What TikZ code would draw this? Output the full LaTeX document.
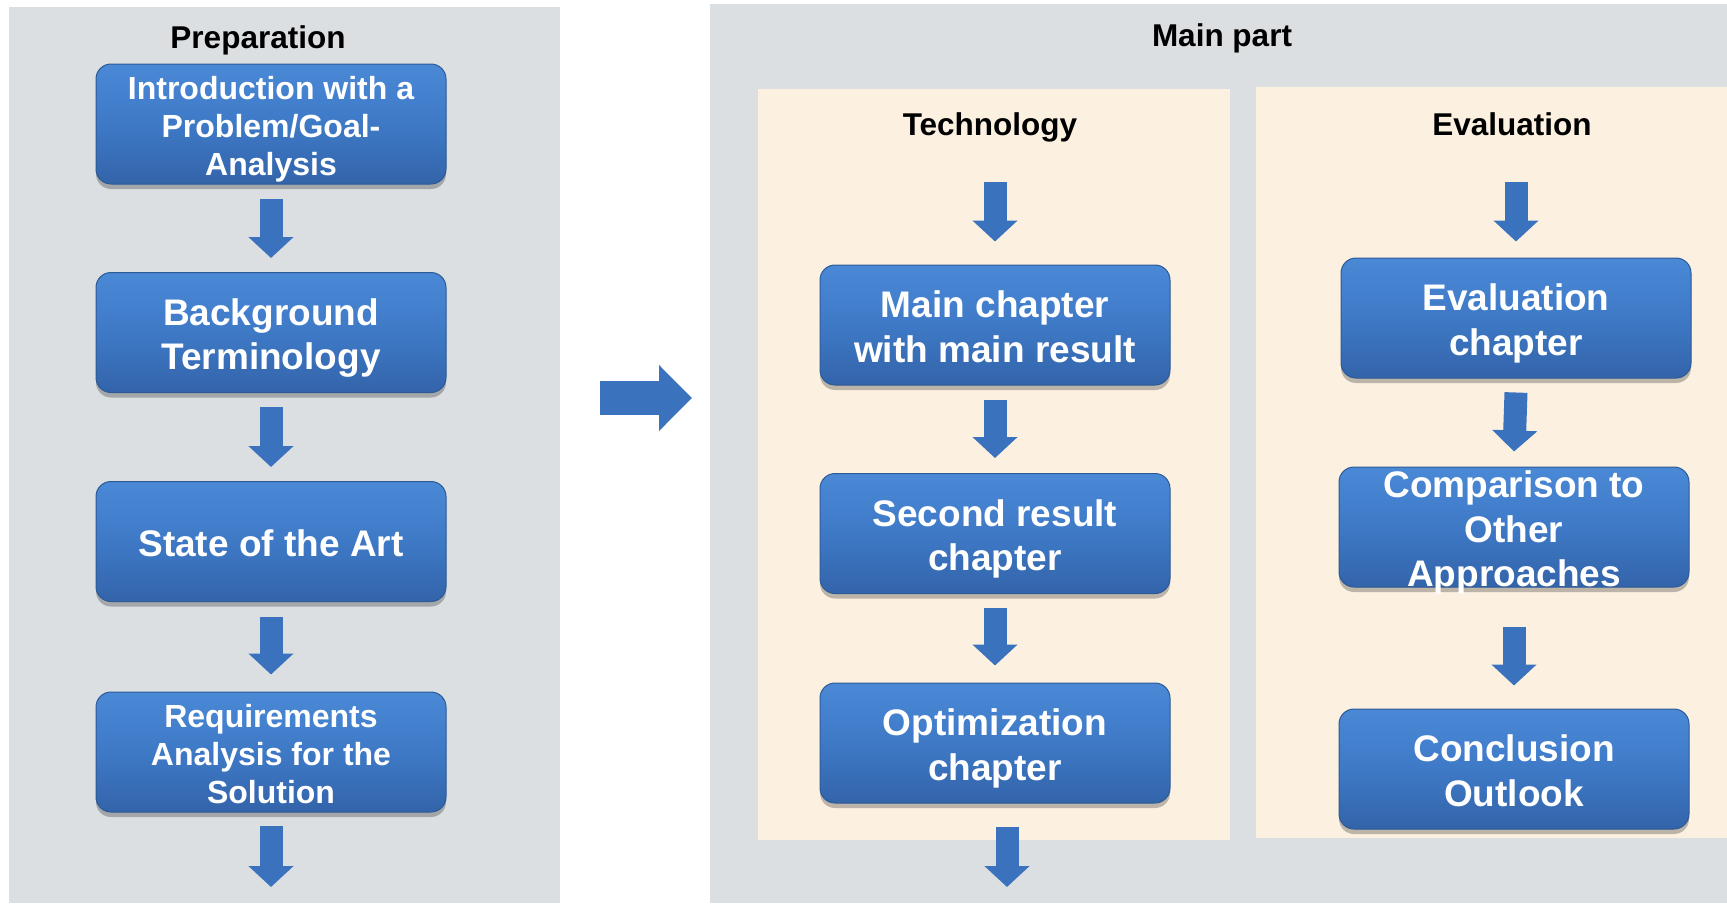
\documentclass[tikz,border=0pt]{standalone}
\usepackage{fontspec}
\setmainfont{Liberation Sans}
\usetikzlibrary{arrows.meta,shadows}
\definecolor{panelgray}{HTML}{DCDFE2}
\definecolor{cream}{HTML}{FCF1E1}
\definecolor{boxtop}{HTML}{4A89D6}
\definecolor{boxmid}{HTML}{3E79C6}
\definecolor{boxbot}{HTML}{3364AA}
\definecolor{boxedge}{HTML}{2C5A96}
\definecolor{arrowblue}{HTML}{3A72BE}
\newcommand{\lt}{\rule[-0.212em]{0pt}{1.237em}}
\newcommand{\ls}{\rule[-0.212em]{0pt}{1.117em}}
\tikzset{
  chapbox/.style={draw=boxedge, line width=1pt, rounded corners=15pt,
    top color=boxtop, bottom color=boxbot, middle color=boxmid,
    minimum width=350pt, minimum height=120pt, align=center, text=white, inner sep=0pt,
    drop shadow={shadow xshift=0pt, shadow yshift=-5pt, opacity=0.25, fill=black}},
  bigtext/.style={font=\bfseries\fontsize{37}{44.5}\selectfont},
  smalltext/.style={font=\bfseries\fontsize{32}{38}\selectfont},
  paneltitle/.style={font=\bfseries\fontsize{31.5}{38}\selectfont, text=black,
    text height=28.5pt, text depth=6.7pt, inner sep=0pt},
  flowarrow/.style={draw=arrowblue, line width=23pt, -{Triangle[width=44pt,length=21pt]}},
  bigarrow/.style={draw=arrowblue, line width=34pt, -{Triangle[width=64pt,length=33pt]}},
}
\begin{document}
\begin{tikzpicture}[x=1pt,y=-1pt]
\useasboundingbox (0,0) rectangle (1727,903);
\fill[white] (0,0) rectangle (1727,903);
\fill[panelgray] (9,7) rectangle (560,903);
\fill[panelgray] (710,4) rectangle (1727,903);
\fill[cream] (758,89) rectangle (1230,840);
\fill[cream] (1256,87) rectangle (1727,838);

\node[paneltitle] (tprep) at (258,37.5) {Preparation};
\node[paneltitle] (tmain) at (1222,35.5) {Main part};
\node[paneltitle] (ttech) at (990,124.5) {Technology};
\node[paneltitle] (teval) at (1512,124.5) {Evaluation};

% Preparation column
\node[chapbox, smalltext] (intro) at (271,124) {\lt Introduction with a\\\ls Problem/Goal-\\\ls Analysis};
\node[chapbox, bigtext] (bg) at (271,332.5) {\lt Background\\\ls Terminology};
\node[chapbox, bigtext] (sota) at (271,541.5) {\lt State of the Art};
\node[chapbox, smalltext] (req) at (271,752) {\lt Requirements\\\ls Analysis for the\\\ls Solution};

% Technology column
\node[chapbox, bigtext] (mainch) at (995,325) {\lt Main chapter\\\ls with main result};
\node[chapbox, bigtext] (second) at (995,533.5) {\lt Second result\\\ls chapter};
\node[chapbox, bigtext] (optim) at (995,743) {\lt Optimization\\\ls chapter};

% Evaluation column
\node[chapbox, bigtext] (evalch) at (1516,318) {\lt Evaluation\\\ls chapter};
\node[chapbox, bigtext, inner ysep=-15pt] (comp) at (1514,527) {\lt Comparison to\\\ls Other\\\ls Approaches};
\node[chapbox, bigtext] (concl) at (1514,769) {\lt Conclusion\\\ls Outlook};

% free arrow ends
\coordinate (lend) at (271,887);
\coordinate (tstart) at (995,182);
\coordinate (tend) at (1007,887);
\coordinate (estart) at (1516,182);
\coordinate (bigA) at (600,398);
\coordinate (bigB) at (692,398);

% arrows
\draw[flowarrow] ([yshift=-14pt]intro.south) -- ([yshift=14pt]bg.north);
\draw[flowarrow] ([yshift=-14pt]bg.south) -- ([yshift=14pt]sota.north);
\draw[flowarrow] ([yshift=-15pt]sota.south) -- ([yshift=17pt]req.north);
\draw[flowarrow] ([yshift=-13pt]req.south) -- (lend);

\draw[flowarrow] (tstart) -- ([yshift=23pt]mainch.north);
\draw[flowarrow] ([yshift=-14pt]mainch.south) -- ([yshift=15pt]second.north);
\draw[flowarrow] ([yshift=-14pt]second.south) -- ([yshift=17pt]optim.north);
\draw[flowarrow] ([xshift=12pt,yshift=-23pt]optim.south) -- (tend);

\draw[flowarrow] (estart) -- ([yshift=16pt]evalch.north);
\draw[flowarrow] ([yshift=-14pt]evalch.south) -- ([yshift=15pt]comp.north);
\draw[flowarrow] ([yshift=-39pt]comp.south) -- ([yshift=23pt]concl.north);

\draw[bigarrow] (bigA) -- (bigB);
\end{tikzpicture}
\end{document}
